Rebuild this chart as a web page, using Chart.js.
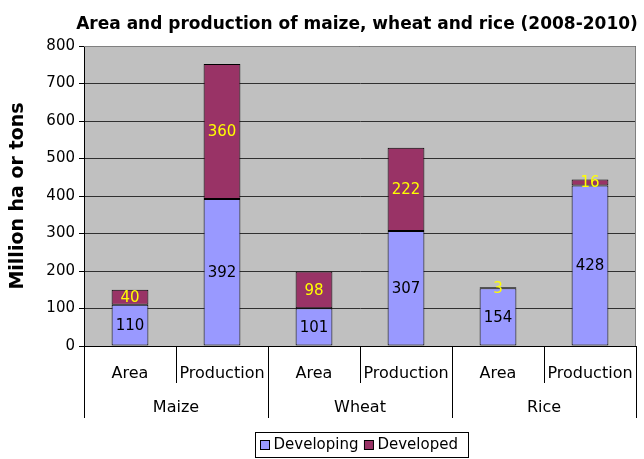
<!DOCTYPE html>
<html>
<head>
<meta charset="utf-8">
<script src="https://cdn.jsdelivr.net/npm/chart.js@4.4.1/dist/chart.umd.min.js"></script>
<style>
  html, body { margin: 0; padding: 0; background: #fff; }
  #wrap { width: 644px; height: 459px; }
</style>
</head>
<body>
<div id="wrap"><canvas id="cropChart"></canvas></div>
<script>
var crops = ['Maize', 'Wheat', 'Rice']
var measures = ['Area', 'Production']
var developing = [110, 392, 101, 307, 154, 428]
var developed = [40, 360, 98, 222, 3, 16]
var yTicks = [0, 100, 200, 300, 400, 500, 600, 700, 800]

var labels = []
crops.forEach(function (c) {
    measures.forEach(function (m) { labels.push(c + ' ' + m) })
})

var FONT = '"DejaVu Sans", sans-serif'

var excelLook = {
    id: 'excelLook',
    beforeDraw: function (chart) {
        var ctx = chart.ctx, a = chart.chartArea
        ctx.save()
        ctx.fillStyle = '#c0c0c0'
        ctx.fillRect(a.left, a.top, a.right - a.left, a.bottom - a.top)
        ctx.restore()
    },
    afterDatasetsDraw: function (chart) {
        var ctx = chart.ctx
        ctx.save()
        ctx.font = '15px ' + FONT
        ctx.textAlign = 'center'
        ctx.textBaseline = 'middle'
        chart.data.datasets.forEach(function (ds, di) {
            var meta = chart.getDatasetMeta(di)
            meta.data.forEach(function (bar, i) {
                var mid = (bar.y + bar.base) / 2
                ctx.fillStyle = di === 0 ? '#000' : '#ffff00'
                ctx.fillText(String(ds.data[i]), bar.x, mid + 1)
            })
        })
        ctx.restore()
    },
    afterDraw: function (chart) {
        var ctx = chart.ctx, a = chart.chartArea, x = chart.scales.x
        ctx.save()
        // plot border (top/right)
        ctx.strokeStyle = '#808080'
        ctx.lineWidth = 1
        ctx.beginPath()
        ctx.moveTo(a.left, a.top + 0.5)
        ctx.lineTo(a.right - 0.5, a.top + 0.5)
        ctx.lineTo(a.right - 0.5, a.bottom)
        ctx.stroke()

        // multi level category axis
        var step = x.getPixelForValue(1) - x.getPixelForValue(0)
        ctx.strokeStyle = '#000'
        ctx.fillStyle = '#000'
        ctx.font = '16px ' + FONT
        ctx.textAlign = 'center'
        ctx.textBaseline = 'middle'
        ctx.beginPath()
        for (var i = 0; i <= labels.length; i++) {
            var px = Math.round(x.getPixelForValue(i) - step / 2) + 0.5
            var len = (i % measures.length === 0) ? 72 : 37
            ctx.moveTo(px, a.bottom)
            ctx.lineTo(px, a.bottom + len)
        }
        ctx.stroke()
        for (var j = 0; j < labels.length; j++) {
            ctx.fillText(measures[j % measures.length], x.getPixelForValue(j), a.bottom + 28)
        }
        crops.forEach(function (c, k) {
            var cx = (x.getPixelForValue(k * 2) + x.getPixelForValue(k * 2 + 1)) / 2
            ctx.fillText(c, cx, a.bottom + 62)
        })

        // title
        ctx.font = 'bold 17px ' + FONT
        ctx.fillText('Area and production of maize, wheat and rice (2008-2010)', 357, 25)

        // legend
        var lx = 255.5, ly = 432.5, lw = 213, lh = 25
        ctx.fillStyle = '#fff'
        ctx.fillRect(lx, ly, lw, lh)
        ctx.strokeRect(lx, ly, lw, lh)
        ctx.font = '15px ' + FONT
        ctx.textAlign = 'left'
        var ix = lx + 5
        chart.data.datasets.forEach(function (ds) {
            ctx.fillStyle = ds.backgroundColor
            ctx.fillRect(ix, ly + 8, 9, 9)
            ctx.strokeStyle = '#000'
            ctx.strokeRect(ix, ly + 8, 9, 9)
            ctx.fillStyle = '#000'
            ctx.fillText(ds.label, ix + 13, ly + 13)
            ix += 13 + ctx.measureText(ds.label).width + 6
        })
        ctx.restore()
    }
}

var cropChart = new Chart(document.getElementById('cropChart'), {
    type: 'bar',
    data: {
        labels: labels,
        datasets: [{
            label: 'Developing',
            data: developing,
            backgroundColor: '#9999ff',
            borderColor: '#000',
            borderWidth: 1,
            borderSkipped: false
        }, {
            label: 'Developed',
            data: developed,
            backgroundColor: '#993366',
            borderColor: '#000',
            borderWidth: 1,
            borderSkipped: false
        }]
    },
    plugins: [excelLook],
    options: {
        responsive: true,
        maintainAspectRatio: false,
        animation: false,
        layout: { padding: { left: 0, right: 8, top: 46, bottom: 0 } },
        datasets: { bar: { categoryPercentage: 1, barPercentage: 0.4 } },
        plugins: {
            legend: { display: false },
            title: { display: false },
            tooltip: { enabled: false }
        },
        scales: {
            x: {
                stacked: true,
                grid: { display: false },
                border: { color: '#000' },
                ticks: { display: false },
                afterFit: function (s) { s.height = 113 }
            },
            y: {
                stacked: true,
                min: 0,
                max: 800,
                afterBuildTicks: function (s) {
                    s.ticks = yTicks.map(function (v) { return { value: v } })
                },
                afterFit: function (s) { s.width = 84 },
                grid: { color: '#303030', tickLength: 5, tickColor: '#000' },
                border: { color: '#000' },
                ticks: { color: '#000', font: { family: FONT, size: 15 }, padding: 4 },
                title: {
                    display: true,
                    text: 'Million ha or tons',
                    color: '#000',
                    font: { family: FONT, size: 19, weight: 'bold' },
                    padding: { top: 7, bottom: 0 }
                }
            }
        }
    }
});
</script>
</body>
</html>
